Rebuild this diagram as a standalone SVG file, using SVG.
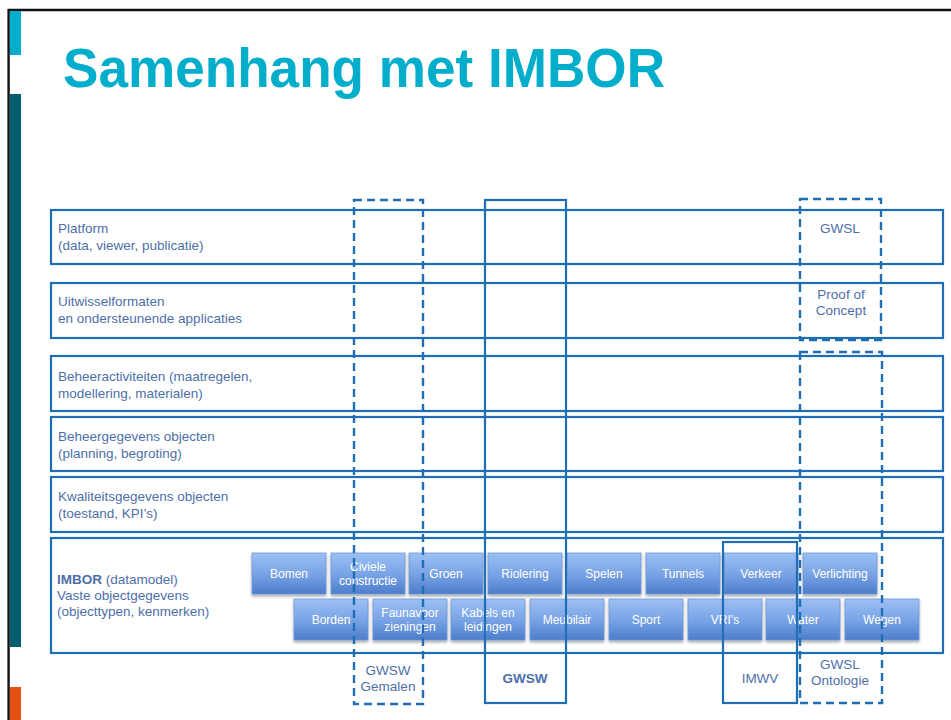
<svg xmlns="http://www.w3.org/2000/svg" width="951" height="720" viewBox="0 0 951 720">
<defs>
<linearGradient id="btn" x1="0" y1="0" x2="0" y2="1">
<stop offset="0" stop-color="#9cc0f4"/>
<stop offset="0.5" stop-color="#7aa4e6"/>
<stop offset="1" stop-color="#4c7dcb"/>
</linearGradient>
<filter id="sh" x="-10%" y="-10%" width="130%" height="140%">
<feGaussianBlur in="SourceAlpha" stdDeviation="1.5"/>
<feOffset dx="0" dy="2" result="b"/>
<feComponentTransfer><feFuncA type="linear" slope="0.35"/></feComponentTransfer>
<feMerge><feMergeNode/><feMergeNode in="SourceGraphic"/></feMerge>
</filter>
</defs>
<style>
.row{fill:none;stroke:#1f6db2;stroke-width:2.2}
.lbl{font-family:"Liberation Sans",Arial,sans-serif;font-size:13.5px;fill:#4d6fa9}
.clbl{font-family:"Liberation Sans",Arial,sans-serif;font-size:13.5px;fill:#4d6fa9;text-anchor:middle}
.btn rect{fill:url(#btn);stroke:#6f9ad8;stroke-width:0.8;filter:url(#sh)}
.btn text{font-family:"Liberation Sans",Arial,sans-serif;font-size:12px;fill:#ffffff;text-anchor:middle}
.dash{fill:none;stroke:#1f6db2;stroke-width:2.4;stroke-dasharray:8 5}
.solid{fill:none;stroke:#1f6db2;stroke-width:2.2}
</style>
<rect width="951" height="720" fill="#ffffff"/>
<!-- slide frame -->
<line x1="8" y1="10" x2="951" y2="10" stroke="#111" stroke-width="2.4"/>
<line x1="8.6" y1="9" x2="8.6" y2="720" stroke="#111" stroke-width="2.4"/>
<rect x="10" y="11" width="11" height="44" fill="#00aecb"/>
<rect x="10" y="94" width="11" height="553" fill="#005e70"/>
<rect x="10" y="687" width="11" height="33" fill="#e65012"/>
<text x="63" y="87" font-family="'Liberation Sans',Arial,sans-serif" font-size="56" font-weight="bold" fill="#00aecb" textLength="602" lengthAdjust="spacingAndGlyphs">Samenhang met IMBOR</text>

<g id="row-platform">
<rect class="row" x="51" y="210" width="892" height="54"/>
<text class="lbl" x="58" y="233">Platform</text>
<text class="lbl" x="58" y="250">(data, viewer, publicatie)</text>
</g>
<g id="row-uitwissel">
<rect class="row" x="51" y="283" width="892" height="55"/>
<text class="lbl" x="58" y="306">Uitwisselformaten</text>
<text class="lbl" x="58" y="323">en ondersteunende applicaties</text>
</g>
<g id="row-beheeractiviteiten">
<rect class="row" x="51" y="356" width="892" height="55"/>
<text class="lbl" x="58" y="381">Beheeractiviteiten (maatregelen,</text>
<text class="lbl" x="58" y="398">modellering, materialen)</text>
</g>
<g id="row-beheergegevens">
<rect class="row" x="51" y="417" width="892" height="54"/>
<text class="lbl" x="58" y="441">Beheergegevens objecten</text>
<text class="lbl" x="58" y="458">(planning, begroting)</text>
</g>
<g id="row-kwaliteit">
<rect class="row" x="51" y="477" width="892" height="55"/>
<text class="lbl" x="58" y="501">Kwaliteitsgegevens objecten</text>
<text class="lbl" x="58" y="518">(toestand, KPI’s)</text>
</g>
<g id="row-imbor">
<rect class="row" x="51" y="538" width="892" height="115"/>
<text class="lbl" x="57" y="584"><tspan font-weight="bold">IMBOR</tspan> (datamodel)</text>
<text class="lbl" x="57" y="600">Vaste objectgegevens</text>
<text class="lbl" x="57" y="616">(objecttypen, kenmerken)</text>
</g>

<g id="buttons">
<g id="btn-bomen" class="btn"><rect x="252" y="553" width="74" height="41"/><text x="289" y="578">Bomen</text></g>
<g id="btn-civiele" class="btn"><rect x="331" y="553" width="74" height="41"/><text x="368" y="571">Civiele</text><text x="368" y="585">constructie</text></g>
<g id="btn-groen" class="btn"><rect x="409" y="553" width="74" height="41"/><text x="446" y="578">Groen</text></g>
<g id="btn-riolering" class="btn"><rect x="488" y="553" width="74" height="41"/><text x="525" y="578">Riolering</text></g>
<g id="btn-spelen" class="btn"><rect x="567" y="553" width="74" height="41"/><text x="604" y="578">Spelen</text></g>
<g id="btn-tunnels" class="btn"><rect x="646" y="553" width="74" height="41"/><text x="683" y="578">Tunnels</text></g>
<g id="btn-verkeer" class="btn"><rect x="724" y="553" width="74" height="41"/><text x="761" y="578">Verkeer</text></g>
<g id="btn-verlichting" class="btn"><rect x="803" y="553" width="74" height="41"/><text x="840" y="578">Verlichting</text></g>
<g id="btn-borden" class="btn"><rect x="294" y="599" width="74" height="41"/><text x="331" y="624">Borden</text></g>
<g id="btn-fauna" class="btn"><rect x="373" y="599" width="74" height="41"/><text x="410" y="617">Faunavoor</text><text x="410" y="631">zieningen</text></g>
<g id="btn-kabels" class="btn"><rect x="451" y="599" width="74" height="41"/><text x="488" y="617">Kabels en</text><text x="488" y="631">leidingen</text></g>
<g id="btn-meubilair" class="btn"><rect x="530" y="599" width="74" height="41"/><text x="567" y="624">Meubilair</text></g>
<g id="btn-sport" class="btn"><rect x="609" y="599" width="74" height="41"/><text x="646" y="624">Sport</text></g>
<g id="btn-vris" class="btn"><rect x="688" y="599" width="74" height="41"/><text x="725" y="624">VRI’s</text></g>
<g id="btn-water" class="btn"><rect x="766" y="599" width="74" height="41"/><text x="803" y="624">Water</text></g>
<g id="btn-wegen" class="btn"><rect x="845" y="599" width="74" height="41"/><text x="882" y="624">Wegen</text></g>
</g>

<g id="col-gwsw-gemalen">
<rect class="dash" x="354" y="200" width="69" height="504"/>
<text class="clbl" x="388" y="675">GWSW</text>
<text class="clbl" x="388" y="691">Gemalen</text>
</g>
<g id="col-gwsw">
<rect class="solid" x="485" y="200" width="81" height="503"/>
<text class="clbl" x="525" y="683" font-weight="bold">GWSW</text>
</g>
<g id="col-imwv">
<rect class="solid" x="723" y="542" width="74" height="161"/>
<text class="clbl" x="760" y="683">IMWV</text>
</g>
<g id="col-gwsl-poc">
<rect class="dash" x="800" y="199" width="81" height="141"/>
<text class="clbl" x="840" y="233">GWSL</text>
<text class="clbl" x="841" y="299">Proof of</text>
<text class="clbl" x="841" y="315">Concept</text>
</g>
<g id="col-gwsl-ontologie">
<rect class="dash" x="800" y="352" width="82" height="351"/>
<text class="clbl" x="840" y="669">GWSL</text>
<text class="clbl" x="840" y="685">Ontologie</text>
</g>
<g id="connectors"></g>
</svg>
